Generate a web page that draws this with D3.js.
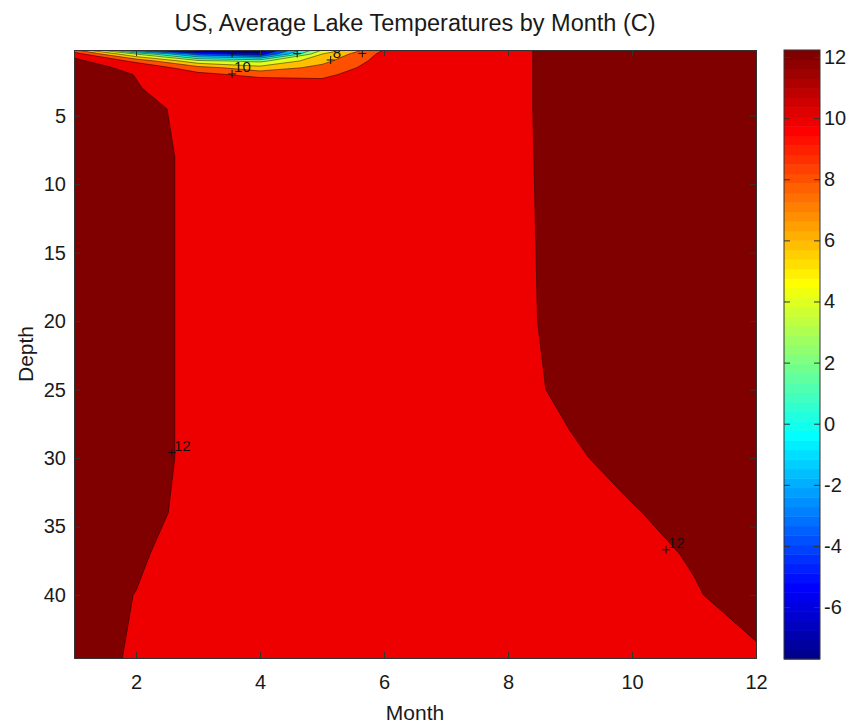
<!DOCTYPE html>
<html>
<head>
<meta charset="utf-8">
<script src="https://cdn.jsdelivr.net/npm/d3@7"></script>
<style>
  body { margin: 0; background: #ffffff; }
  svg { display: block; }
  text { font-family: "Liberation Sans", Arial, Helvetica, sans-serif; fill: #1a1a1a; }
</style>
</head>
<body>
<svg id="chart" width="853" height="724"></svg>
<script>
// ---------------- data ----------------
const chartTitle = "US, Average Lake Temperatures by Month (C)";
const xLabel = "Month";
const yLabel = "Depth";

const months = [1, 2, 3, 4, 5, 6, 7, 8, 9, 10, 11, 12];
const depths = [0.2, 0.5, 1, 1.5, 2, 2.5, 3, 4.5, 8, 20, 25, 30, 34, 37, 40, 44.6];

// temperature[depthIndex][monthIndex]  (deg C)
const temperature = [
  [ 8.5, -3.0, -7.4, -7.7,  4.0, 10.1, 11.2, 11.7, 12.45, 12.6, 12.6, 12.6],
  [11.2,  4.0, -3.0, -5.0,  6.0, 10.6, 11.3, 11.7, 12.45, 12.6, 12.6, 12.6],
  [12.6,  9.5,  4.5,  3.5,  7.4, 10.9, 11.3, 11.7, 12.45, 12.6, 12.6, 12.6],
  [12.6, 11.65, 8.8,  6.8,  8.6, 11.1, 11.4, 11.7, 12.45, 12.6, 12.6, 12.6],
  [12.6, 11.97, 10.6, 9.4,  9.6, 11.2, 11.4, 11.7, 12.45, 12.6, 12.6, 12.6],
  [12.6, 12.02, 11.2, 10.8, 10.3, 11.3, 11.5, 11.7, 12.45, 12.6, 12.6, 12.6],
  [12.6, 12.1, 11.1, 11.2, 11.0, 11.3, 11.5, 11.7, 12.45, 12.6, 12.6, 12.6],
  [12.6, 12.4, 11.6, 11.4, 11.3, 11.4, 11.5, 11.7, 12.45, 12.6, 12.6, 12.6],
  [12.6, 12.5, 11.7, 11.5, 11.4, 11.4, 11.5, 11.7, 12.42, 12.6, 12.6, 12.6],
  [12.6, 12.5, 11.7, 11.5, 11.4, 11.4, 11.5, 11.7, 12.33, 12.6, 12.6, 12.6],
  [12.6, 12.5, 11.7, 11.5, 11.4, 11.4, 11.5, 11.53, 12.3, 12.5, 12.6, 12.6],
  [12.6, 12.5, 11.7, 11.5, 11.4, 11.4, 11.5, 11.5, 11.8, 12.45, 12.6, 12.6],
  [12.6, 12.4, 11.63, 11.5, 11.4, 11.4, 11.5, 11.5, 11.6, 11.9, 12.5, 12.6],
  [12.6, 12.25, 11.15, 11.3, 11.3, 11.3, 11.4, 11.4, 11.5, 11.6, 12.12, 12.6],
  [12.6, 11.97, 11.2, 11.2, 11.2, 11.2, 11.3, 11.3, 11.4, 11.5, 11.9, 12.55],
  [12.6, 11.83, 11.1, 11.1, 11.1, 11.1, 11.2, 11.2, 11.3, 11.4, 11.5, 11.8]
];

const contourLevels = [-6, -4, -2, 0, 2, 4, 6, 8, 10, 12];
const colorLimits = [-7.7, 12.23];
const depthDomain = [0.2, 44.6];

const xTicks = [2, 4, 6, 8, 10, 12];
const yTicks = [5, 10, 15, 20, 25, 30, 35, 40];
const colorTicks = [-6, -4, -2, 0, 2, 4, 6, 8, 10, 12];

// contour labels (clabel style): position on the line in data coords
const labelMonths = [3.55, 5.14, 2.58, 10.55];
const labelDepths = [1.95, 0.93, 29.6, 36.7];
const labelTexts  = ["10", "8", "12", "12"];
// extra label markers whose text is clipped
const markerMonths = [3.55, 4.6, 5.65];
const markerDepths = [0.45, 0.45, 0.45];

// ---------------- layout ----------------
const plot = { left: 74, right: 756, top: 50, bottom: 658 };
const cbar = { left: 784, right: 820, top: 50, bottom: 659 };

const svg = d3.select("#chart");

const x = d3.scaleLinear().domain([months[0], months[months.length - 1]]).range([plot.left, plot.right]);
const y = d3.scaleLinear().domain(depthDomain).range([plot.top, plot.bottom]);

const fmt = d => String(d); // plain hyphen-minus like MATLAB

// MATLAB jet(64)
function jetIndex(v) {
  const t = (v - colorLimits[0]) / (colorLimits[1] - colorLimits[0]);
  return Math.max(1, Math.min(64, Math.floor(t * 64) + 1));
}
function jetRGB(i) {
  let r, g, b;
  if (i < 25) r = 0; else if (i <= 40) r = (i - 24) / 16; else if (i <= 55) r = 1; else r = (72 - i) / 16;
  if (i < 9) g = 0; else if (i <= 24) g = (i - 8) / 16; else if (i <= 39) g = 1; else if (i <= 55) g = (56 - i) / 16; else g = 0;
  if (i <= 8) b = (i + 8) / 16; else if (i <= 23) b = 1; else if (i <= 39) b = (40 - i) / 16; else b = 0;
  return d3.rgb(Math.round(r * 255), Math.round(g * 255), Math.round(b * 255)).toString();
}
const jet = v => jetRGB(jetIndex(v));

// ---------------- contours ----------------
const nx = months.length, ny = depths.length;
const px = nx + 2, py = ny + 2; // padded grid (edge-replicated) so borders are exact
const padded = new Array(px * py);
for (let j = 0; j < py; j++) {
  for (let i = 0; i < px; i++) {
    const r = Math.max(0, Math.min(ny - 1, j - 1));
    const c = Math.max(0, Math.min(nx - 1, i - 1));
    padded[j * px + i] = temperature[r][c];
  }
}

// detect d3-contour sample-coordinate convention
const probe = d3.contours().size([3, 1]).thresholds([0.25])([0, 1, 0]);
let probeMin = Infinity;
probe[0].coordinates.forEach(poly => poly.forEach(ring => ring.forEach(p => { if (p[0] < probeMin) probeMin = p[0]; })));
const offset = probeMin - 0.25;

const depthOfRow = d3.scaleLinear().domain(d3.range(ny)).range(depths);
function toScreen(gx, gy) {
  const k = gx - offset;          // padded column index
  const m = months[0] + (k - 1) * (months[1] - months[0]);
  const r = gy - offset - 1;      // original row index
  return [x(m), y(depthOfRow(r))];
}
const projection = d3.geoTransform({
  point: function (gx, gy) { const p = toScreen(gx, gy); this.stream.point(p[0], p[1]); }
});
const path = d3.geoPath(projection);

const contourData = d3.contours().size([px, py]).thresholds(contourLevels)(padded);

const defs = svg.append("defs");
defs.append("clipPath").attr("id", "plotClip")
  .append("rect")
  .attr("x", plot.left).attr("y", plot.top)
  .attr("width", plot.right - plot.left).attr("height", plot.bottom - plot.top);

const gPlot = svg.append("g").attr("clip-path", "url(#plotClip)");
gPlot.append("rect")
  .attr("x", plot.left).attr("y", plot.top)
  .attr("width", plot.right - plot.left).attr("height", plot.bottom - plot.top)
  .attr("fill", jet(d3.min(temperature.flat())));

gPlot.selectAll("path.fill").data(contourData).join("path")
  .attr("class", "fill")
  .attr("d", path)
  .attr("fill", d => jet(d.value))
  .attr("stroke", d => jet(d.value))
  .attr("stroke-width", 0.3);

gPlot.selectAll("path.line").data(contourData).join("path")
  .attr("class", "line")
  .attr("d", path)
  .attr("fill", "none")
  .attr("stroke", "#000")
  .attr("stroke-opacity", 0.75)
  .attr("stroke-width", 0.6);

// contour labels
const gLab = gPlot.append("g");
const plusSize = 4;
function plus(g, cx, cy) {
  g.append("path")
    .attr("d", `M${cx - plusSize},${cy}H${cx + plusSize}M${cx},${cy - plusSize}V${cy + plusSize}`)
    .attr("stroke", "#111").attr("stroke-width", 1).attr("fill", "none");
}
labelTexts.forEach((t, i) => {
  const cx = x(labelMonths[i]), cy = y(labelDepths[i]);
  plus(gLab, cx, cy);
  gLab.append("text")
    .attr("x", cx + 2).attr("y", cy - 2)
    .attr("font-size", 15)
    .style("fill", "#111")
    .text(t);
});
markerMonths.forEach((m, i) => plus(gLab, x(m), y(markerDepths[i])));

// ---------------- axes ----------------
const axisColor = "#333";
function styleAxis(g, showText) {
  g.select(".domain").attr("stroke", axisColor);
  g.selectAll(".tick line").attr("stroke", axisColor);
  g.selectAll(".tick text").attr("font-size", 20).style("fill", "#1a1a1a")
    .attr("font-family", "'Liberation Sans', Arial, sans-serif");
  if (!showText) g.selectAll(".tick text").remove();
}
svg.append("g").attr("transform", `translate(0,${plot.bottom})`)
  .call(d3.axisBottom(x).tickValues(xTicks).tickSize(-6).tickPadding(17).tickFormat(fmt))
  .call(g => styleAxis(g, true));
svg.append("g").attr("transform", `translate(0,${plot.top})`)
  .call(d3.axisTop(x).tickValues(xTicks).tickSize(-6).tickFormat(""))
  .call(g => styleAxis(g, false));
svg.append("g").attr("transform", `translate(${plot.left},0)`)
  .call(d3.axisLeft(y).tickValues(yTicks).tickSize(-6).tickPadding(8).tickFormat(fmt))
  .call(g => styleAxis(g, true));
svg.append("g").attr("transform", `translate(${plot.right},0)`)
  .call(d3.axisRight(y).tickValues(yTicks).tickSize(-6).tickFormat(""))
  .call(g => styleAxis(g, false));

// titles
svg.append("text")
  .attr("x", 415).attr("y", 31)
  .attr("text-anchor", "middle").attr("font-size", 23.5)
  .text(chartTitle);
svg.append("text")
  .attr("x", (plot.left + plot.right) / 2).attr("y", 720)
  .attr("text-anchor", "middle").attr("font-size", 21)
  .text(xLabel);
svg.append("text")
  .attr("transform", `translate(33,${(plot.top + plot.bottom) / 2}) rotate(-90)`)
  .attr("text-anchor", "middle").attr("font-size", 21)
  .text(yLabel);

// ---------------- colorbar ----------------
const cy = d3.scaleLinear().domain(colorLimits).range([cbar.bottom, cbar.top]);
const nColors = 64;
const step = (colorLimits[1] - colorLimits[0]) / nColors;
const gBar = svg.append("g");
gBar.selectAll("rect").data(d3.range(1, nColors + 1)).join("rect")
  .attr("x", cbar.left)
  .attr("width", cbar.right - cbar.left)
  .attr("y", i => cy(colorLimits[0] + i * step))
  .attr("height", i => cy(colorLimits[0] + (i - 1) * step) - cy(colorLimits[0] + i * step) + 0.5)
  .attr("fill", i => jetRGB(i));
gBar.append("rect")
  .attr("x", cbar.left).attr("y", cbar.top)
  .attr("width", cbar.right - cbar.left).attr("height", cbar.bottom - cbar.top)
  .attr("fill", "none").attr("stroke", axisColor).attr("stroke-width", 1);
svg.append("g").attr("transform", `translate(${cbar.right},0)`)
  .call(d3.axisRight(cy).tickValues(colorTicks).tickSize(-6).tickPadding(4).tickFormat(fmt))
  .call(g => styleAxis(g, true))
  .call(g => g.select(".domain").remove());
svg.append("g").attr("transform", `translate(${cbar.left},0)`)
  .call(d3.axisLeft(cy).tickValues(colorTicks).tickSize(-6).tickFormat(""))
  .call(g => styleAxis(g, false))
  .call(g => g.select(".domain").remove());
</script>
</body>
</html>
